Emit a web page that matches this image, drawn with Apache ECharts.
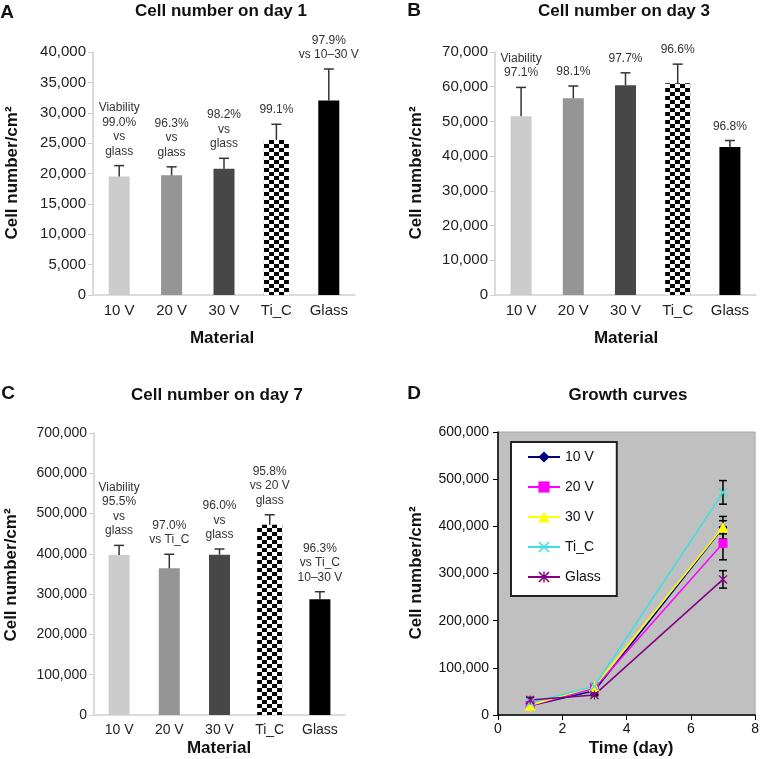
<!DOCTYPE html>
<html>
<head>
<meta charset="utf-8">
<script src="https://cdn.jsdelivr.net/npm/echarts@6/dist/echarts.min.js"></script>
<style>
html, body { margin: 0; padding: 0; background: #fff; }
#main { width: 762px; height: 759px; }
</style>
</head>
<body>
<div id="main"></div>
<script>
// categories
var materials = ['10 V', '20 V', '30 V', 'Ti_C', 'Glass'];
var days = [1, 3, 7];

// cell number per cm2, mean and SD
var day1Mean = [19500, 19700, 20800, 25500, 32000];
var day1Sd = [1800, 1400, 1700, 2600, 5200];
var day3Mean = [51500, 56700, 60400, 61000, 42600];
var day3Sd = [8300, 3500, 3600, 5500, 1900];
var day7Mean = [397000, 364000, 398000, 472000, 287500];
var day7Sd = [24000, 35000, 14000, 25000, 18500];

// viability notes over the bars
var day1Notes = ['Viability\n99.0%\nvs\nglass', '96.3%\nvs\nglass', '98.2%\nvs\nglass', '99.1%', '97.9%\nvs 10\u201330 V'];
var day3Notes = ['Viability\n97.1%', '98.1%', '97.7%', '96.6%', '96.8%'];
var day7Notes = ['Viability\n95.5%\nvs\nglass', '97.0%\nvs Ti_C', '96.0%\nvs\nglass', '95.8%\nvs 20 V\nglass', '96.3%\nvs Ti_C\n10\u201330 V'];

// y axis ticks [min, max, step]
var day1Ticks = [0, 40000, 5000];
var day3Ticks = [0, 70000, 10000];
var day7Ticks = [0, 700000, 100000];
var growthTicks = [0, 600000, 100000];
var timeTicks = [0, 8, 2];

var FONT = '"Liberation Sans", Arial, sans-serif';
var TIC = 3; // index of Ti_C

// checker tile, shifted so columns start at the bar's left edge
function makeChecker(off) {
    var c = document.createElement('canvas');
    c.width = 10;
    c.height = 8;
    var ctx = c.getContext('2d');
    ctx.fillStyle = '#fff';
    ctx.fillRect(0, 0, 10, 8);
    ctx.fillStyle = '#000';
    for (var k = -2; k <= 2; k++) {
        ctx.fillRect(off + k * 10, 0, 5, 4);
        ctx.fillRect(off + k * 10 + 5, 4, 5, 4);
    }
    return { image: c, repeat: 'repeat' };
}

var barColors = ['#cccccc', '#959595', '#474747', null, '#000000'];

var lineColors = ['#000080', '#ff00ff', '#ffff00', '#3ce0e0', '#800080'];
var xPath = 'path://M1,0L10,9L9,10L0,1Z M9,0L10,1L1,10L0,9Z';
var starPath = 'path://M1,0L10,9L9,10L0,1Z M9,0L10,1L1,10L0,9Z M4.4,0L5.6,0L5.6,10L4.4,10Z';
var lineSymbols = ['diamond', 'rect', 'triangle', xPath, starPath];

function fmt(v) {
    return v.toLocaleString('en-US');
}

function barAxes(g, ticks, fs) {
    var x = {
        type: 'category',
        gridIndex: g,
        data: materials,
        axisLine: { lineStyle: { color: '#cfcfcf', width: 1.5 } },
        axisTick: { show: false },
        axisLabel: { color: '#222', fontSize: fs, fontFamily: FONT, margin: 8 }
    };
    var y = {
        type: 'value',
        gridIndex: g,
        min: ticks[0],
        max: ticks[1],
        interval: ticks[2],
        axisLine: { show: true, lineStyle: { color: '#cfcfcf', width: 1.5 } },
        axisTick: { show: true, length: 5, lineStyle: { color: '#cfcfcf' } },
        splitLine: { show: false },
        axisLabel: { color: '#222', fontSize: fs, fontFamily: FONT, margin: 7, formatter: fmt }
    };
    return [x, y];
}

// hidden twin category axis so the Ti_C bar can be a little wider
function twinAxis(g) {
    return { type: 'category', gridIndex: g, data: materials, show: false };
}

function barSeries(g, means, sds, notes) {
    var bars = {
        type: 'bar',
        xAxisIndex: g,
        yAxisIndex: g,
        barWidth: 21,
        data: means.map(function(v, i) {
            if (i === TIC) return '-';
            return { value: v, itemStyle: { color: barColors[i] } };
        })
    };
    var ticBar = {
        type: 'bar',
        id: 'tic' + g,
        xAxisIndex: 4 + g,
        yAxisIndex: g,
        barWidth: 25,
        itemStyle: { color: makeChecker(0) },
        data: means.map(function(v, i) { return i === TIC ? v : '-'; })
    };
    var errs = {
        type: 'custom',
        xAxisIndex: g,
        yAxisIndex: g,
        z: 5,
        encode: { x: 0, y: 1 },
        data: means.map(function(v, i) { return [i, v]; }),
        renderItem: function(params, api) {
            var i = params.dataIndex;
            var base = api.coord([i, means[i]]);
            var top = api.coord([i, means[i] + sds[i]]);
            var x = base[0];
            return {
                type: 'group',
                children: [
                    { type: 'line', shape: { x1: x, y1: base[1], x2: x, y2: top[1] }, style: { stroke: '#333', lineWidth: 1.5 } },
                    { type: 'line', shape: { x1: x - 5, y1: top[1], x2: x + 5, y2: top[1] }, style: { stroke: '#333', lineWidth: 1.5 } },
                    {
                        type: 'text', x: x, y: top[1] - 7,
                        style: {
                            text: notes[i], align: 'center', verticalAlign: 'bottom',
                            fontSize: 12, lineHeight: 14.5, fontFamily: FONT, fill: '#333'
                        }
                    }
                ]
            };
        }
    };
    return [bars, ticBar, errs];
}

var dayMeans = [day1Mean, day3Mean, day7Mean];
var daySds = [day1Sd, day3Sd, day7Sd];

var growthSeries = materials.map(function(name, k) {
    return {
        type: 'line',
        name: name,
        xAxisIndex: 3,
        yAxisIndex: 3,
        data: days.map(function(d, j) { return [d, dayMeans[j][k]]; }),
        symbol: lineSymbols[k],
        symbolSize: k === 2 ? 11 : 9,
        color: lineColors[k],
        lineStyle: { color: lineColors[k], width: 1.5 },
        itemStyle: { color: lineColors[k] }
    };
});

var growthErrData = [];
materials.forEach(function(name, k) {
    days.forEach(function(d, j) {
        growthErrData.push([d, dayMeans[j][k], daySds[j][k]]);
    });
});

var growthErr = {
    type: 'custom',
    xAxisIndex: 3,
    yAxisIndex: 3,
    z: 1,
    data: growthErrData,
    encode: { x: 0, y: 1 },
    renderItem: function(params, api) {
        var d = api.value(0), m = api.value(1), s = api.value(2);
        var hi = api.coord([d, m + s]);
        var lo = api.coord([d, m - s]);
        var x = hi[0];
        var st = { stroke: '#000', lineWidth: 1.5 };
        return {
            type: 'group',
            children: [
                { type: 'line', shape: { x1: x, y1: hi[1], x2: x, y2: lo[1] }, style: st },
                { type: 'line', shape: { x1: x - 4, y1: hi[1], x2: x + 4, y2: hi[1] }, style: st },
                { type: 'line', shape: { x1: x - 4, y1: lo[1], x2: x + 4, y2: lo[1] }, style: st }
            ]
        };
    }
};

var axA = barAxes(0, day1Ticks, 15);
var axB = barAxes(1, day3Ticks, 15);
var axC = barAxes(2, day7Ticks, 14);

function txt(s, x, y, size, bold, rot) {
    return {
        type: 'text',
        x: x,
        y: y,
        rotation: rot || 0,
        style: {
            text: s, align: 'center', verticalAlign: 'middle',
            fontSize: size, fontWeight: bold ? 'bold' : 'normal',
            fontFamily: FONT, fill: '#111'
        }
    };
}

var yTitle = 'Cell number/cm\u00b2';

var option = {
    animation: false,
    backgroundColor: '#fff',
    grid: [
        { left: 93, top: 52, width: 262, height: 243 },
        { left: 495, top: 52, width: 261, height: 243 },
        { left: 94, top: 433, width: 251, height: 282 },
        { left: 498, top: 432, width: 259, height: 283, show: true, backgroundColor: '#c0c0c0', borderWidth: 1, borderColor: '#a8a8a8' }
    ],
    legend: {
        data: materials,
        orient: 'vertical',
        left: 511,
        top: 442,
        padding: [8, 16, 12, 16],
        itemWidth: 32,
        itemHeight: 14,
        itemGap: 16,
        backgroundColor: '#fff',
        borderColor: '#222',
        borderWidth: 2,
        borderRadius: 0,
        textStyle: { color: '#111', fontSize: 14, fontFamily: FONT }
    },
    xAxis: [axA[0], axB[0], axC[0], {
        type: 'value',
        gridIndex: 3,
        min: timeTicks[0],
        max: timeTicks[1],
        interval: timeTicks[2],
        axisLine: { lineStyle: { color: '#000', width: 1.5 } },
        axisTick: { show: true, length: 5, lineStyle: { color: '#000' } },
        splitLine: { show: false },
        axisLabel: { color: '#111', fontSize: 14, fontFamily: FONT, margin: 7 }
    }, twinAxis(0), twinAxis(1), twinAxis(2)],
    yAxis: [axA[1], axB[1], axC[1], {
        type: 'value',
        gridIndex: 3,
        min: growthTicks[0],
        max: growthTicks[1],
        interval: growthTicks[2],
        axisLine: { show: true, lineStyle: { color: '#000', width: 1.5 } },
        axisTick: { show: true, length: 5, lineStyle: { color: '#000' } },
        splitLine: { show: false },
        axisLabel: { color: '#111', fontSize: 14, fontFamily: FONT, margin: 9, formatter: fmt }
    }],
    graphic: [
        txt('A', 7, 13, 19, true),
        txt('B', 414, 11, 19, true),
        txt('C', 8, 394, 19, true),
        txt('D', 414, 394, 19, true),
        txt('Cell number on day 1', 221, 11, 17, true),
        txt('Cell number on day 3', 624, 11, 17, true),
        txt('Cell number on day 7', 217, 395, 17, true),
        txt('Growth curves', 628, 395, 17, true),
        txt(yTitle, 12, 173, 17, true, Math.PI / 2),
        txt(yTitle, 416, 173, 17, true, Math.PI / 2),
        txt(yTitle, 11, 575, 17, true, Math.PI / 2),
        txt(yTitle, 416, 573, 17, true, Math.PI / 2),
        txt('Material', 222, 338, 17, true),
        txt('Material', 626, 338, 17, true),
        txt('Material', 219, 748, 17, true),
        txt('Time (day)', 631, 748, 17, true)
    ],
    series: []
        .concat(barSeries(0, day1Mean, day1Sd, day1Notes))
        .concat(barSeries(1, day3Mean, day3Sd, day3Notes))
        .concat(barSeries(2, day7Mean, day7Sd, day7Notes))
        .concat([growthErr])
        .concat(growthSeries)
};

var myChart = echarts.init(document.getElementById('main'));
myChart.setOption(option);

// line the checker columns up with each Ti_C bar's left edge
var fix = [0, 1, 2].map(function(g) {
    var p = myChart.convertToPixel({ xAxisIndex: 4 + g, yAxisIndex: g }, [TIC, 0]);
    var left = Math.round(p[0] - 12.5);
    return { id: 'tic' + g, itemStyle: { color: makeChecker(((left % 10) + 10) % 10) } };
});
myChart.setOption({ series: fix });
</script>
</body>
</html>
